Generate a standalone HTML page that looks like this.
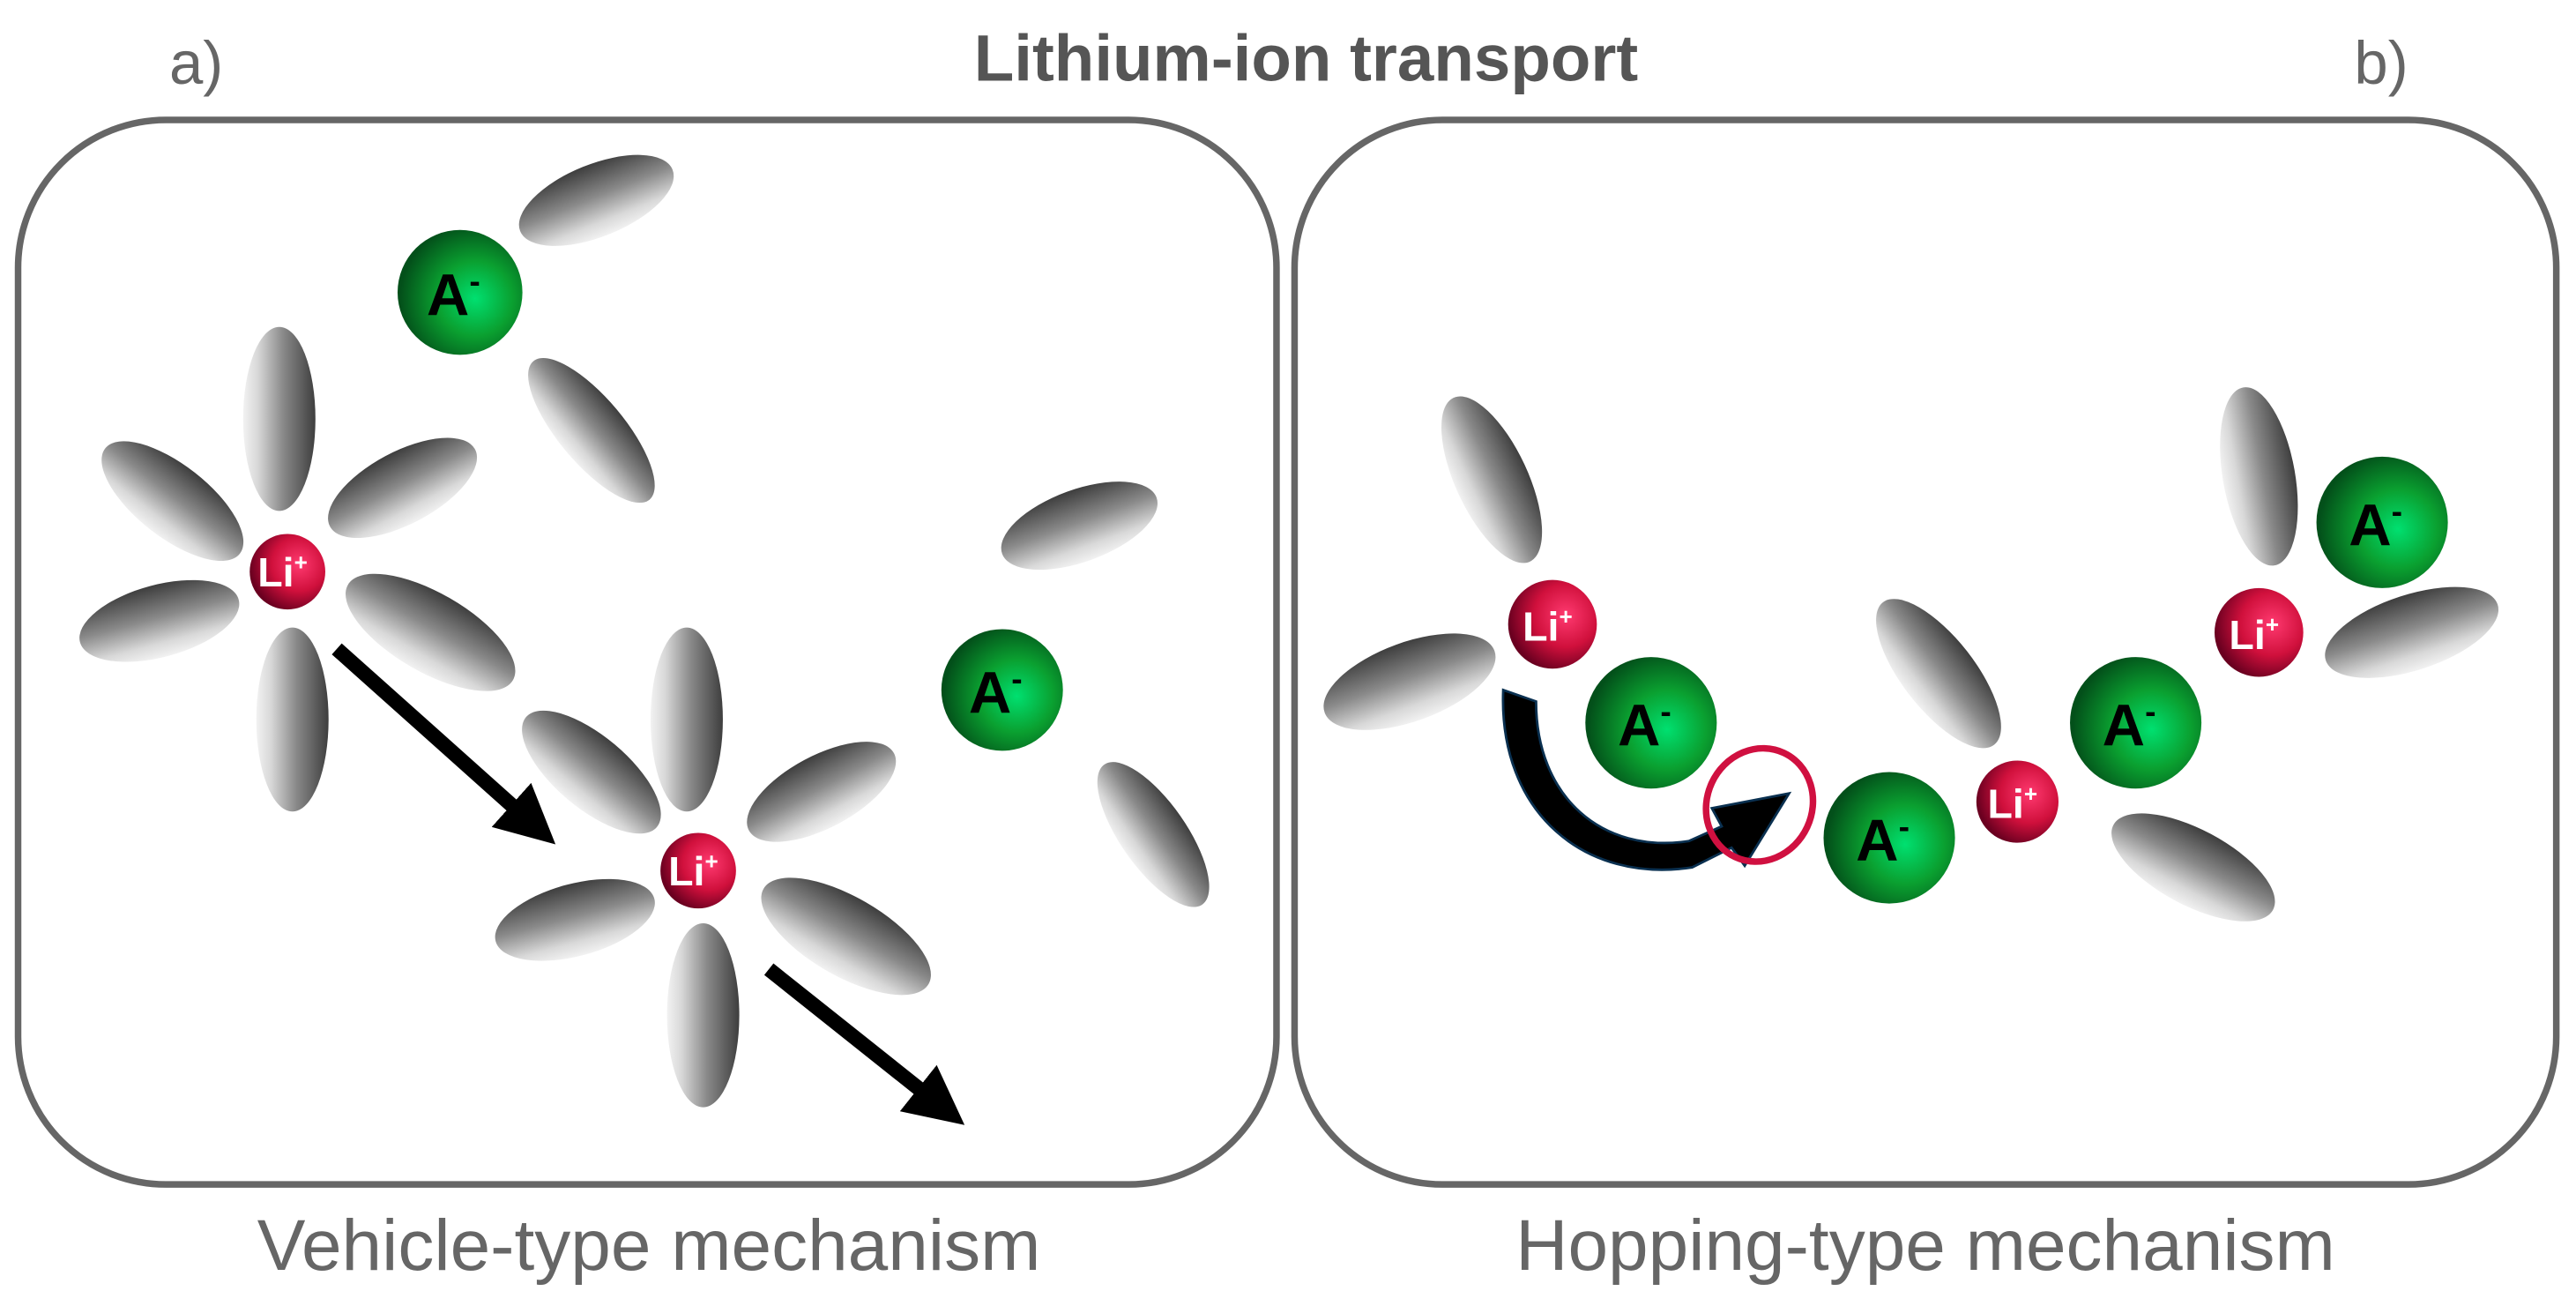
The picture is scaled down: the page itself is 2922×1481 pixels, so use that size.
<!DOCTYPE html>
<html><head><meta charset="utf-8"><style>
html,body{margin:0;padding:0;background:#fff;}
svg{display:block;}
text{font-family:"Liberation Sans",Arial,sans-serif;}
</style></head><body>
<svg width="2922" height="1481" viewBox="0 0 1568 795" preserveAspectRatio="none" xmlns="http://www.w3.org/2000/svg">
<defs>
<linearGradient id="gE" x1="0" y1="0" x2="0" y2="1">
<stop offset="0" stop-color="#3e3e3e"/><stop offset="0.45" stop-color="#8a8a8a"/><stop offset="0.8" stop-color="#d8d8d8"/><stop offset="1" stop-color="#f2f2f2"/>
</linearGradient>
<radialGradient id="gG" cx="0.62" cy="0.55" r="0.6">
<stop offset="0" stop-color="#00e070"/><stop offset="0.5" stop-color="#0aa030"/><stop offset="1" stop-color="#03501a"/>
</radialGradient>
<radialGradient id="gR" cx="0.65" cy="0.4" r="0.65">
<stop offset="0" stop-color="#ff3a70"/><stop offset="0.55" stop-color="#d0103c"/><stop offset="1" stop-color="#6a0020"/>
</radialGradient>
<marker id="ah" markerWidth="4" markerHeight="4" refX="1" refY="2" orient="auto" markerUnits="strokeWidth"><path d="M0,0 L4,2 L0,4 z" fill="#000"/></marker>
</defs>
<rect width="1568" height="795" fill="#fff"/>
<text x="103" y="51" font-size="37" fill="#666">a)</text>
<text x="795" y="49" font-size="40" font-weight="bold" fill="#555" text-anchor="middle">Lithium-ion transport</text>
<text x="1433" y="51" font-size="37" fill="#666">b)</text>
<rect x="11" y="73" width="766" height="648" rx="90" fill="none" stroke="#666" stroke-width="4"/>
<rect x="788" y="73" width="768" height="648" rx="90" fill="none" stroke="#666" stroke-width="4"/>
<text x="395" y="773" font-size="44" fill="#666" text-anchor="middle">Vehicle-type mechanism</text>
<text x="1172" y="773" font-size="44" fill="#666" text-anchor="middle">Hopping-type mechanism</text>

<g fill="url(#gE)">
<ellipse cx="0" cy="0" rx="50" ry="22" transform="translate(363,122) rotate(-22)"/>
<ellipse cx="0" cy="0" rx="55" ry="20" transform="translate(360,262) rotate(50)"/>
<ellipse cx="0" cy="0" rx="56" ry="22" transform="translate(170,255) rotate(90)"/>
<ellipse cx="0" cy="0" rx="52" ry="22" transform="translate(105,305) rotate(38)"/>
<ellipse cx="0" cy="0" rx="50" ry="22" transform="translate(245,297) rotate(-28)"/>
<ellipse cx="0" cy="0" rx="50" ry="22" transform="translate(97,378) rotate(-15)"/>
<ellipse cx="0" cy="0" rx="58" ry="24" transform="translate(262,385) rotate(30)"/>
<ellipse cx="0" cy="0" rx="56" ry="22" transform="translate(178,438) rotate(90)"/>
<ellipse cx="0" cy="0" rx="56" ry="22" transform="translate(418,438) rotate(90)"/>
<ellipse cx="0" cy="0" rx="52" ry="22" transform="translate(360,470) rotate(40)"/>
<ellipse cx="0" cy="0" rx="50" ry="22" transform="translate(500,482) rotate(-28)"/>
<ellipse cx="0" cy="0" rx="50" ry="22" transform="translate(350,560) rotate(-15)"/>
<ellipse cx="0" cy="0" rx="58" ry="24" transform="translate(515,570) rotate(30)"/>
<ellipse cx="0" cy="0" rx="56" ry="22" transform="translate(428,618) rotate(90)"/>
<ellipse cx="0" cy="0" rx="50" ry="22" transform="translate(657,320) rotate(-20)"/>
<ellipse cx="0" cy="0" rx="52" ry="20" transform="translate(702,508) rotate(55)"/>
<ellipse cx="0" cy="0" rx="55" ry="22" transform="translate(908,292) rotate(65)"/>
<ellipse cx="0" cy="0" rx="55" ry="24" transform="translate(858,415) rotate(-20)"/>
<ellipse cx="0" cy="0" rx="55" ry="22" transform="translate(1180,410) rotate(52)"/>
<ellipse cx="0" cy="0" rx="55" ry="23" transform="translate(1335,528) rotate(28)"/>
<ellipse cx="0" cy="0" rx="55" ry="22" transform="translate(1375,290) rotate(80)"/>
<ellipse cx="0" cy="0" rx="55" ry="23" transform="translate(1468,385) rotate(-18)"/>
</g>

<line x1="205" y1="395" x2="318" y2="496" stroke="#000" stroke-width="9" marker-end="url(#ah)"/>
<line x1="468" y1="590" x2="566" y2="668" stroke="#000" stroke-width="9" marker-end="url(#ah)"/>

<path d="M915,420 C912,495 965,538 1030,528 L1054,516 L1062,527 L1089,483 L1042,492 L1048,503 L1028,512 C975,520 935,485 935,427 Z" fill="#000" stroke="#0a3050" stroke-width="1.5"/>
<ellipse cx="1071" cy="490" rx="32" ry="35" transform="rotate(25 1071 490)" fill="none" stroke="#d01040" stroke-width="4"/>

<g fill="url(#gG)">
<circle cx="280" cy="178" r="38"/>
<circle cx="610" cy="420" r="37"/>
<circle cx="1005" cy="440" r="40"/>
<circle cx="1150" cy="510" r="40"/>
<circle cx="1300" cy="440" r="40"/>
<circle cx="1450" cy="318" r="40"/>
</g>
<g fill="url(#gR)">
<circle cx="175" cy="348" r="23"/>
<circle cx="425" cy="530" r="23"/>
<circle cx="945" cy="380" r="27"/>
<circle cx="1228" cy="488" r="25"/>
<circle cx="1375" cy="385" r="27"/>
</g>
<g font-weight="bold" font-size="36" fill="#000" text-anchor="middle">
<text x="276" y="192">A<tspan font-size="20" dy="-14">-</tspan></text>
<text x="606" y="434">A<tspan font-size="20" dy="-14">-</tspan></text>
<text x="1001" y="454">A<tspan font-size="20" dy="-14">-</tspan></text>
<text x="1146" y="524">A<tspan font-size="20" dy="-14">-</tspan></text>
<text x="1296" y="454">A<tspan font-size="20" dy="-14">-</tspan></text>
<text x="1446" y="332">A<tspan font-size="20" dy="-14">-</tspan></text>
</g>
<g font-weight="bold" font-size="25" fill="#fff" text-anchor="middle">
<text x="172" y="357">Li<tspan font-size="14" dy="-10">+</tspan></text>
<text x="422" y="539">Li<tspan font-size="14" dy="-10">+</tspan></text>
<text x="942" y="390">Li<tspan font-size="14" dy="-10">+</tspan></text>
<text x="1225" y="498">Li<tspan font-size="14" dy="-10">+</tspan></text>
<text x="1372" y="395">Li<tspan font-size="14" dy="-10">+</tspan></text>
</g>
</svg>
</body></html>
